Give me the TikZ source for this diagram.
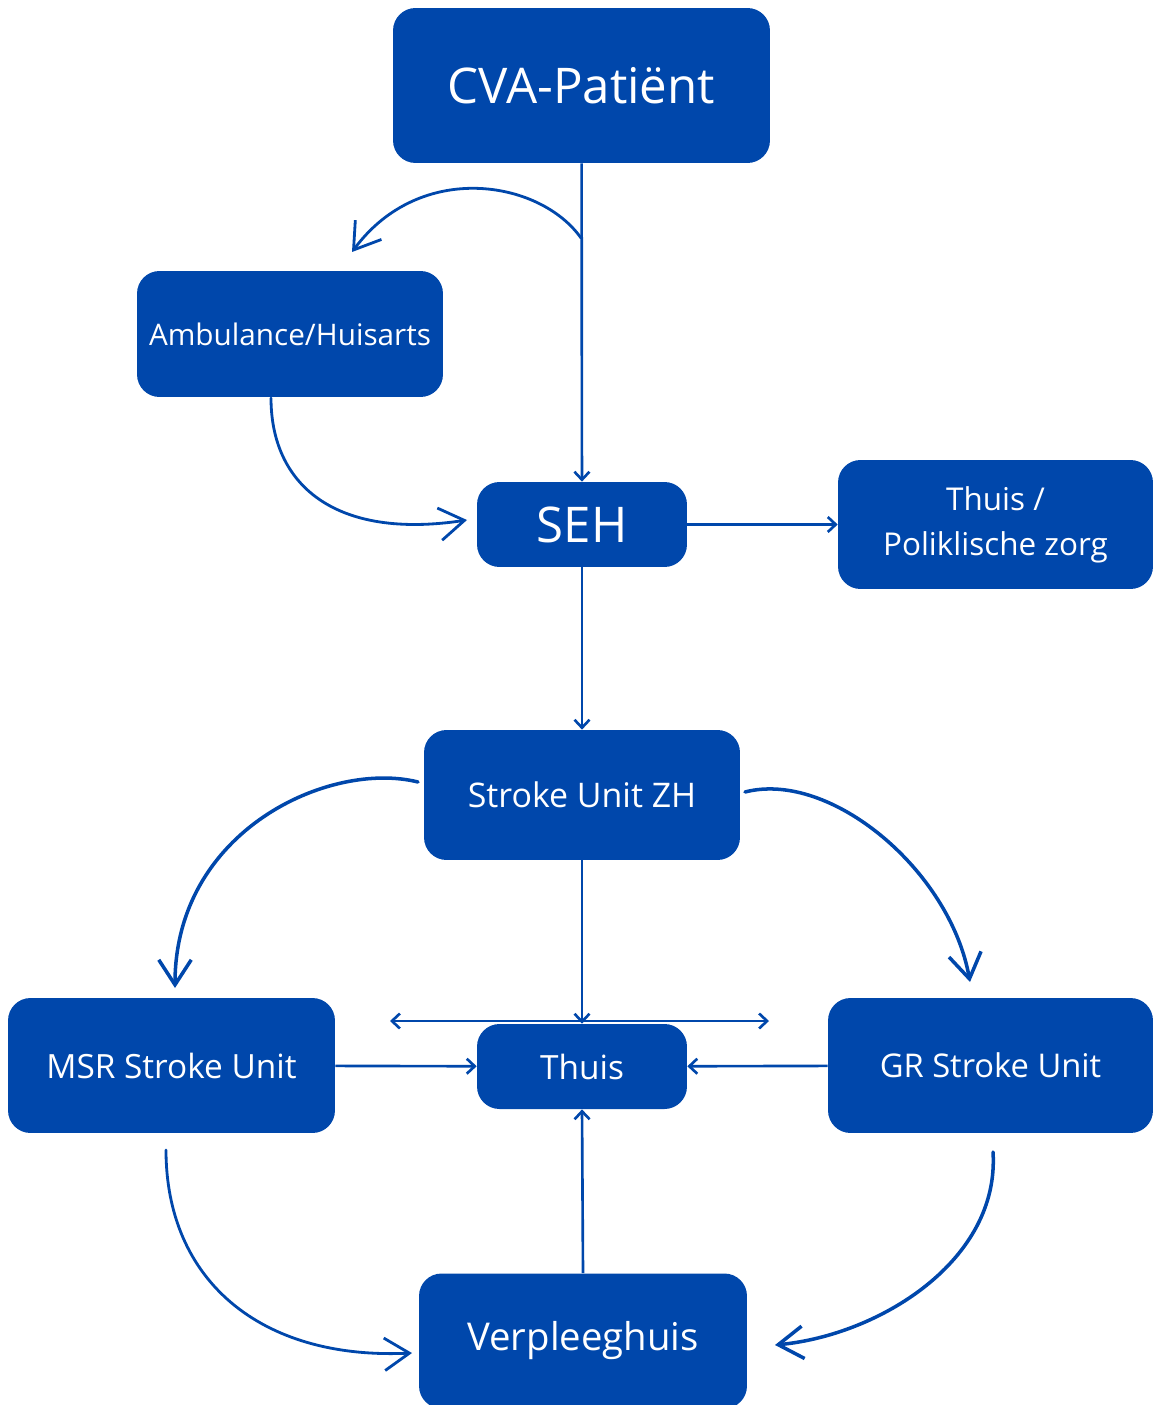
\documentclass[tikz,border=0pt]{standalone}
\usepackage{fontspec}
\setmainfont{Open Sans}
\usetikzlibrary{arrows.meta}
\definecolor{zorgblue}{RGB}{0,71,171}
\tikzset{ % common looks
	box/.style={fill=zorgblue, text=white, rounded corners=0.45cm, inner sep=0pt, align=center},
	flow/.style={draw=zorgblue, line width=1.5pt, -{Straight Barb[length=1.6mm,width=3mm]}},
	sketch/.style={draw=zorgblue, line width=2pt, line cap=round, -{Straight Barb[length=5mm,width=6.5mm]}}
}

\begin{document}
\begin{tikzpicture}[x=0.02cm,y=-0.02cm]
	\useasboundingbox (0,0) rectangle (1153,1405);
	% Boxes
	\node[box,minimum width=7.54cm,minimum height=3.1cm,font=\fontsize{28}{32}\selectfont] (cva) at (581.5,85.5) {CVA-Patiënt};
	\node[box,minimum width=6.12cm,minimum height=2.52cm,font=\fontsize{16.9}{20}\selectfont] (amb) at (290,334) {Ambulance/Huisarts};
	\node[box,minimum width=4.2cm,minimum height=1.7cm,font=\fontsize{28}{32}\selectfont] (seh) at (582,524.5) {SEH};
	\node[box,minimum width=6.3cm,minimum height=2.58cm,font=\fontsize{17.9}{25.5}\selectfont] (poli) at (995.5,524.5) {Thuis /\\Poliklische zorg};
	\node[box,minimum width=6.32cm,minimum height=2.6cm,font=\fontsize{19.3}{23}\selectfont] (szh) at (582,795) {Stroke Unit ZH};
	\node[box,minimum width=6.54cm,minimum height=2.7cm,font=\fontsize{19}{23}\selectfont] (msr) at (171.5,1065.5) {MSR Stroke Unit};
	\node[box,minimum width=4.2cm,minimum height=1.7cm,font=\fontsize{19}{23}\selectfont] (thuis) at (582,1066.5) {Thuis};
	\node[box,minimum width=6.5cm,minimum height=2.7cm,font=\fontsize{18.6}{23}\selectfont] (gr) at (990.5,1065.5) {GR Stroke Unit};
	\node[box,minimum width=6.56cm,minimum height=2.7cm,font=\fontsize{21.8}{26}\selectfont] (verp) at (583,1341) {Verpleeghuis};
	% Loose ends
	\coordinate (split) at (581,238);
	\coordinate (ambtip) at (352,252);
	\coordinate (ambout) at (271,398);
	\coordinate (sehin) at (467,520);
	\coordinate (szhl) at (418,782);
	\coordinate (msrtip) at (175,988);
	\coordinate (szhr) at (745,792);
	\coordinate (grtip) at (970,982);
	\coordinate (msrout) at (166,1150);
	\coordinate (verpl) at (412,1353);
	\coordinate (grout) at (993,1152);
	\coordinate (verpr) at (775,1345);
	\coordinate (homel) at (390,1021);
	\coordinate (homer) at (769,1021);
	% Straight connectors
	\draw[flow] (cva) -- (seh);
	\draw[flow] (seh) -- (poli);
	\draw[flow] (seh) -- (szh);
	\draw[flow] (szh) -- (thuis.north);
	\draw[flow,{Straight Barb[length=1.6mm,width=3mm]}-{Straight Barb[length=1.6mm,width=3mm]}] (homel) -- (homer);
	\draw[flow] (msr) -- (thuis);
	\draw[flow] (gr) -- (thuis);
	\draw[flow] (verp.north) -- (thuis.south);
	% Sketched arrows
	\draw[sketch,line width=1.6pt] (split) .. controls (540,180) and (420,160) .. (ambtip);
	\draw[sketch,line width=1.6pt] (ambout) .. controls (271,485) and (335,540) .. (sehin);
	\draw[sketch] (szhl) .. controls (330,760) and (175,830) .. (msrtip);
	\draw[sketch] (szhr) .. controls (830,770) and (950,870) .. (grtip);
	\draw[sketch,line width=1.6pt] (msrout) .. controls (166,1280) and (260,1360) .. (verpl);
	\draw[sketch] (grout) .. controls (1000,1260) and (880,1335) .. (verpr);
\end{tikzpicture}
\end{document}
